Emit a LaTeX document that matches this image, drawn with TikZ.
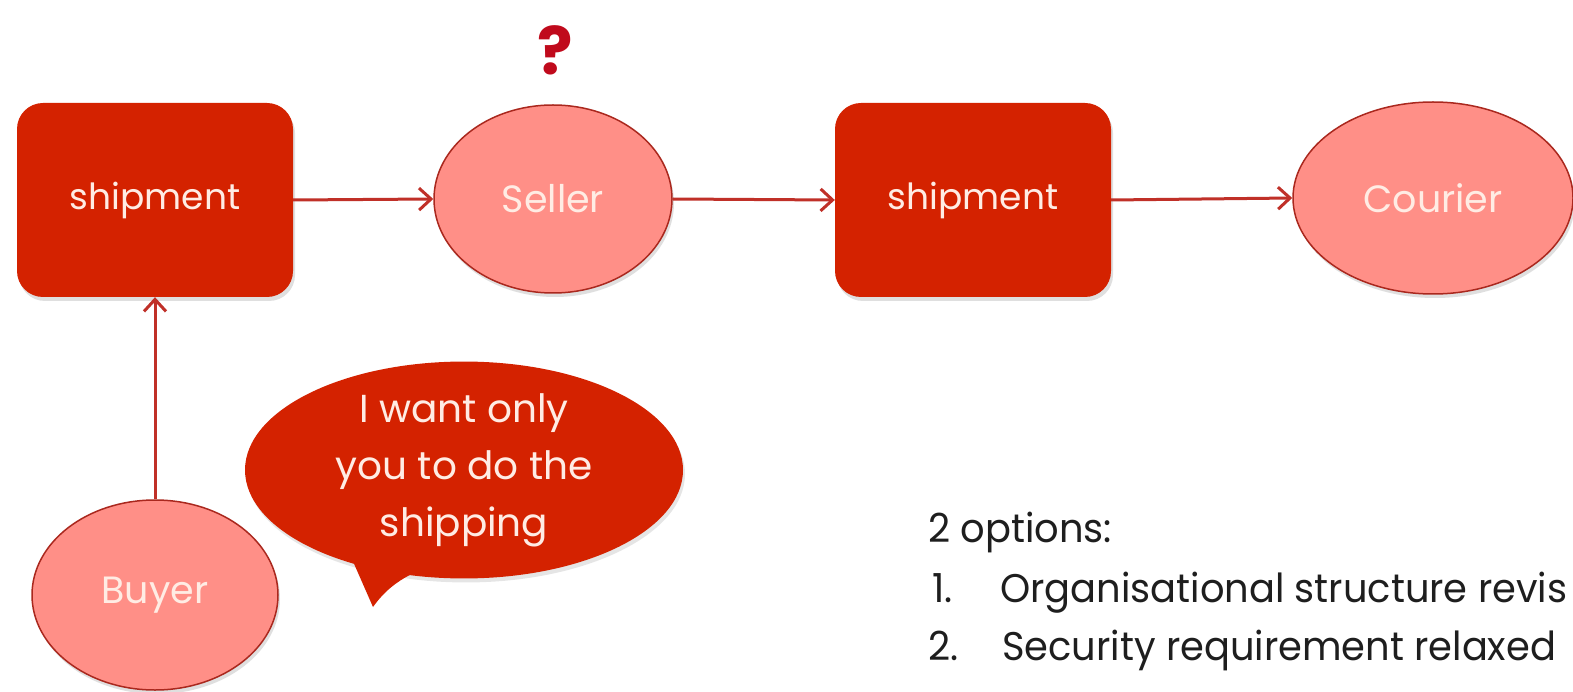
\documentclass[tikz,border=0pt]{standalone}
\usepackage{fontspec}
\setmainfont{Poppins}
\newfontfamily\listfont[FakeStretch=0.96]{Poppins}
\usetikzlibrary{shapes.geometric,arrows.meta,shadows}
\definecolor{boxred}{RGB}{212,34,0}
\definecolor{salmon}{RGB}{255,143,135}
\definecolor{edgered}{RGB}{170,40,30}
\definecolor{arrred}{RGB}{192,48,40}
\definecolor{paletext}{RGB}{255,236,228}
\definecolor{qred}{RGB}{192,10,28}
\definecolor{bodytext}{RGB}{30,30,30}
\tikzset{
  shipbox/.style={draw=none, fill=boxred, rounded corners=26pt, minimum width=276pt, minimum height=194pt,
    text=paletext, font=\fontsize{36}{40}\selectfont,
    drop shadow={shadow xshift=2pt, shadow yshift=-4pt, opacity=0.25}},
  actor/.style={ellipse, draw=edgered, line width=1.5pt, fill=salmon, inner sep=0pt,
    text=paletext, font=\fontsize{38}{42}\selectfont,
    drop shadow={shadow xshift=2pt, shadow yshift=-4pt, opacity=0.25}},
  flow/.style={draw=arrred, line width=3pt, -{Straight Barb[length=12pt,width=22pt,line width=3pt]}},
  plain/.style={anchor=base west, inner sep=0pt, text=bodytext, font=\listfont\fontsize{40}{44}\selectfont},
}
\begin{document}
\begin{tikzpicture}[x=1pt,y=-1pt]
\useasboundingbox (0,0) rectangle (1573,692);
\fill[white] (0,0) rectangle (1573,692);
\node[shipbox] (ship1) at (155,200) {shipment};
\node[actor, minimum width=238pt, minimum height=188pt] (seller) at (553,199) {Seller};
\node[shipbox] (ship2) at (973,200) {shipment};
\node[actor, minimum width=280pt, minimum height=192pt] (courier) at (1433,198) {Courier};
\node[actor, minimum width=246pt, minimum height=190pt] (buyer) at (155,595) {Buyer};
\node[text=qred, font=\fontsize{66}{70}\selectfont\bfseries, inner sep=0pt] (q) at (555,50) {?};
% speech bubble
\node[ellipse, fill=boxred, minimum width=438pt, minimum height=216pt, inner sep=0pt,
  text=paletext, font=\fontsize{39}{57}\selectfont, align=center,
  drop shadow={shadow xshift=2pt, shadow yshift=-4pt, opacity=0.2}] (bubble) at (464,470)
  {I want only\\you to do the\\shipping};
\fill[boxred] (348,550) -- (373,607) .. controls (385,590) and (400,578) .. (425,568) -- cycle;
% arrows
\draw[flow] (ship1.east) -- (seller.west);
\draw[flow] (seller.east) -- (ship2.west);
\draw[flow] (ship2.east) -- (courier.west);
\draw[flow] (buyer.north) -- (ship1.south);
% options text
\node[plain] (opt) at (928,542) {2 options:};
\node[plain] (n1) at (932,602) {1.};
\node[plain] (o1) at (1000,602) {Organisational structure revis};
\node[plain] (n2) at (928,660) {2.};
\node[plain] (o2) at (1002,660) {Security requirement relaxed};
\end{tikzpicture}
\end{document}
